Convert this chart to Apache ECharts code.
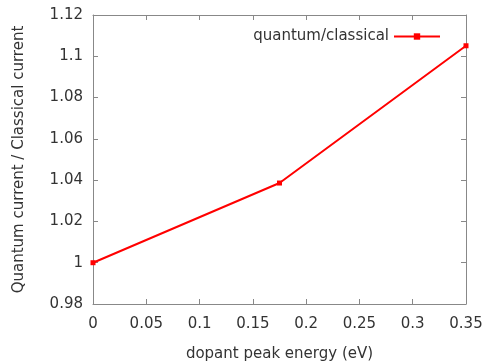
<!DOCTYPE html>
<html><head><meta charset="utf-8">
<script src="https://cdn.jsdelivr.net/npm/echarts@6/dist/echarts.min.js"></script>
<style>html,body{margin:0;padding:0;background:#fff}#c{width:488px;height:363px}</style>
</head><body><div id="c"></div>
<script>
const xValues = [0, 0.175, 0.35];
const yValues = [1.0, 1.0386, 1.1051];
const seriesName = 'quantum/classical';
const xTitle = 'dopant peak energy (eV)';
const yTitle = 'Quantum current / Classical current';

const font = 'DejaVu Sans';
const txt = '#333';
const axisCol = '#888';
const fs = 15;
const chart = echarts.init(document.getElementById('c'));
const axisBase = {
  axisLine: {show: true, onZero: false, lineStyle: {color: axisCol, width: 1}},
  axisTick: {show: true, inside: true, length: 5, lineStyle: {color: axisCol}},
  splitLine: {show: false}
};
chart.setOption({
  animation: false,
  textStyle: {fontFamily: font},
  grid: {left: 93, top: 15, right: 22, bottom: 59, containLabel: false, outerBoundsMode: 'none'},
  legend: {
    data: [seriesName], right: 42, top: 24, align: 'right',
    itemWidth: 46, itemHeight: 8, itemGap: 12,
    textStyle: {fontFamily: font, fontSize: fs, color: txt}
  },
  xAxis: [
    Object.assign({type: 'value', min: 0, max: 0.35, interval: 0.05, position: 'bottom',
      name: xTitle, nameLocation: 'middle', nameGap: 43,
      nameTextStyle: {fontFamily: font, fontSize: fs, color: txt},
      axisLabel: {fontFamily: font, fontSize: fs, color: txt, margin: 13}}, axisBase),
    Object.assign({type: 'value', min: 0, max: 0.35, interval: 0.05, position: 'top',
      axisLabel: {show: false}}, axisBase)
  ],
  yAxis: [
    Object.assign({type: 'value', min: 0.98, max: 1.12, interval: 0.02, position: 'left',
      name: yTitle, nameLocation: 'middle', nameGap: 66,
      nameTextStyle: {fontFamily: font, fontSize: fs, color: txt},
      axisLabel: {fontFamily: font, fontSize: fs, color: txt, margin: 10,
        formatter: v => String(parseFloat(v.toFixed(2)))}}, axisBase),
    Object.assign({type: 'value', min: 0.98, max: 1.12, interval: 0.02, position: 'right',
      axisLabel: {show: false}}, axisBase)
  ],
  series: [{
    name: seriesName, type: 'line',
    data: xValues.map((x, i) => [x, yValues[i]]),
    symbol: 'rect', symbolSize: 5, clip: false,
    lineStyle: {color: '#ff0000', width: 2},
    itemStyle: {color: '#ff0000'}
  }]
});
</script></body></html>
